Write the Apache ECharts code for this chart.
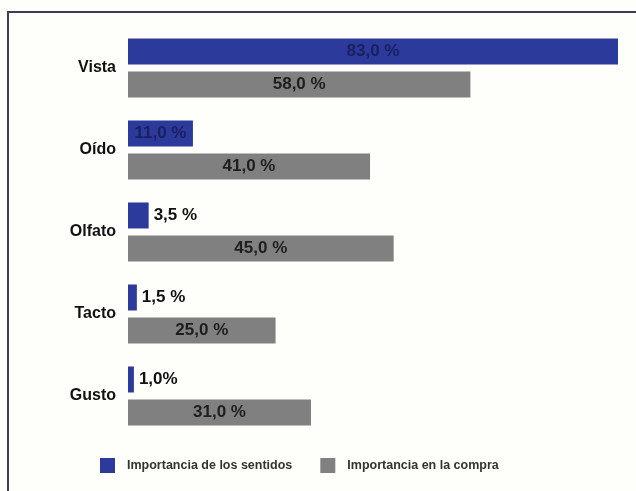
<!DOCTYPE html>
<html>
<head>
<meta charset="utf-8">
<script src="https://cdn.jsdelivr.net/npm/echarts@6/dist/echarts.min.js"></script>
<style>html,body{margin:0;padding:0;background:#fefefb;}#c{width:636px;height:491px;}</style>
</head>
<body>
<div id="c"></div>
<script>
const categories = ['Vista', 'Oído', 'Olfato', 'Tacto', 'Gusto'];
const sentidos = [83.0, 11.0, 3.5, 1.5, 1.0];
const compra = [58.0, 41.0, 45.0, 25.0, 31.0];
const sentidosLabels = ['83,0 %', '11,0 %', '3,5 %', '1,5 %', '1,0%'];
const compraLabels = ['58,0 %', '41,0 %', '45,0 %', '25,0 %', '31,0 %'];
const seriesNames = ['Importancia de los sentidos', 'Importancia en la compra'];

const BLUE = '#2c3a9c', GRAY = '#808080';
const chart = echarts.init(document.getElementById('c'));
const font = 'Liberation Sans, Arial, sans-serif';
chart.setOption({
  backgroundColor: '#fefefb',
  animation: false,
  grid: { left: 128, right: 18, top: 27, bottom: 54 },
  xAxis: { type: 'value', min: 0, max: 83, show: false },
  yAxis: {
    type: 'category', data: categories, inverse: true,
    axisLine: { show: false }, axisTick: { show: false },
    axisLabel: { color: '#111', fontFamily: font, fontWeight: 'bold', fontSize: 16, margin: 12 }
  },
  legend: {
    left: 100, top: 458, padding: 0, itemWidth: 15, itemHeight: 15, itemGap: 28,
    icon: 'rect',
    textStyle: { fontFamily: font, fontSize: 12.5, fontWeight: 'bold', color: '#333', padding: [0, 0, 0, 7] },
    data: seriesNames
  },
  graphic: [{
    type: 'polyline', silent: true,
    shape: { points: [[8, 491], [8, 12], [636, 12]] },
    style: { stroke: '#3a3f55', lineWidth: 2, fill: null }
  }],
  series: [
    {
      name: seriesNames[0], type: 'bar', barWidth: 26, barGap: '27%',
      itemStyle: { color: BLUE },
      data: sentidos.map((v, i) => ({
        value: v,
        label: {
          show: true, position: v < 5 ? 'right' : 'inside',
          formatter: sentidosLabels[i], distance: 5,
          color: v < 5 ? '#111' : '#1b2060',
          fontFamily: font, fontWeight: 'bold', fontSize: 17
        }
      }))
    },
    {
      name: seriesNames[1], type: 'bar', barWidth: 26, barGap: '27%',
      itemStyle: { color: GRAY },
      data: compra.map((v, i) => ({
        value: v,
        label: {
          show: true, position: 'inside', formatter: compraLabels[i],
          color: '#1e1e1e', fontFamily: font, fontWeight: 'bold', fontSize: 17
        }
      }))
    }
  ]
});
</script>
</body>
</html>
